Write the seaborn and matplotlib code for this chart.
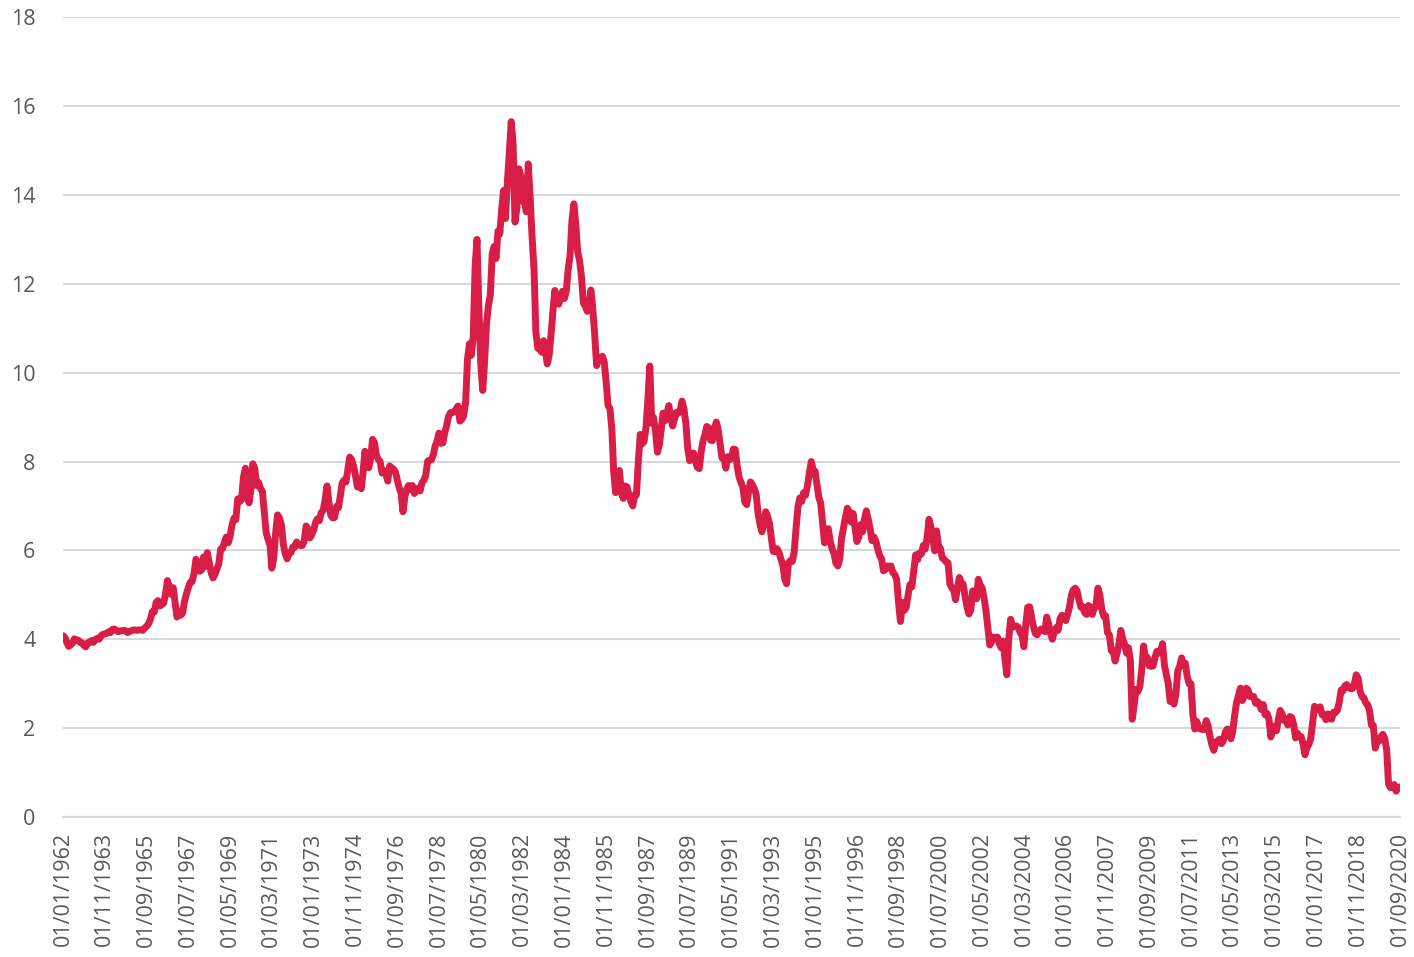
import matplotlib
matplotlib.use("Agg")
import matplotlib.pyplot as plt
import seaborn as sns
import pandas as pd

# 月度收益率（%），1962-01 至 2020-09，按年排列
y1962 = [4.08, 4.04, 3.93, 3.84, 3.87, 3.91, 4.01, 3.98, 3.98, 3.93, 3.92, 3.86]
y1963 = [3.83, 3.92, 3.93, 3.97, 3.93, 3.99, 4.02, 4.00, 4.08, 4.11, 4.12, 4.13]
y1964 = [4.17, 4.15, 4.22, 4.23, 4.20, 4.17, 4.19, 4.19, 4.20, 4.19, 4.15, 4.18]
y1965 = [4.19, 4.21, 4.21, 4.20, 4.21, 4.21, 4.20, 4.25, 4.29, 4.35, 4.45, 4.62]
y1966 = [4.61, 4.83, 4.87, 4.75, 4.78, 4.81, 5.02, 5.32, 5.18, 5.01, 5.16, 4.84]
y1967 = [4.50, 4.63, 4.54, 4.59, 4.85, 5.02, 5.16, 5.28, 5.30, 5.48, 5.80, 5.70]
y1968 = [5.53, 5.56, 5.85, 5.64, 5.95, 5.72, 5.50, 5.38, 5.46, 5.58, 5.70, 6.03]
y1969 = [6.04, 6.19, 6.30, 6.17, 6.32, 6.57, 6.72, 6.69, 7.16, 7.10, 7.14, 7.65]
y1970 = [7.85, 7.24, 7.07, 7.39, 7.95, 7.84, 7.46, 7.53, 7.39, 7.33, 6.84, 6.39]
y1971 = [6.24, 6.11, 5.60, 5.83, 6.39, 6.80, 6.73, 6.58, 6.14, 5.93, 5.81, 5.93]
y1972 = [5.95, 6.08, 6.07, 6.19, 6.13, 6.11, 6.11, 6.21, 6.55, 6.48, 6.28, 6.36]
y1973 = [6.46, 6.64, 6.71, 6.67, 6.85, 6.90, 7.13, 7.45, 7.09, 6.79, 6.73, 6.74]
y1974 = [6.99, 6.96, 7.21, 7.51, 7.58, 7.54, 7.81, 8.10, 8.04, 7.90, 7.68, 7.43]
y1975 = [7.50, 7.39, 7.73, 8.23, 8.06, 7.86, 8.06, 8.50, 8.43, 8.14, 8.05, 8.00]
y1976 = [7.74, 7.79, 7.73, 7.56, 7.90, 7.86, 7.83, 7.77, 7.59, 7.41, 7.29, 6.87]
y1977 = [7.21, 7.39, 7.46, 7.37, 7.46, 7.28, 7.33, 7.40, 7.34, 7.52, 7.58, 7.69]
y1978 = [8.01, 8.03, 8.04, 8.15, 8.35, 8.46, 8.64, 8.41, 8.42, 8.64, 8.81, 9.01]
y1979 = [9.10, 9.10, 9.12, 9.18, 9.25, 8.91, 8.95, 9.03, 9.33, 10.30, 10.65, 10.39]
y1980 = [10.80, 12.41, 13.00, 11.47, 10.18, 9.60, 10.25, 11.10, 11.51, 11.75, 12.68, 12.84]
y1981 = [12.57, 13.19, 13.12, 13.68, 14.10, 13.47, 14.28, 14.94, 15.65, 15.15, 13.39, 13.72]
y1982 = [14.59, 14.43, 13.86, 13.87, 13.62, 14.70, 13.95, 13.06, 12.34, 10.91, 10.55, 10.54]
y1983 = [10.46, 10.72, 10.51, 10.20, 10.38, 10.85, 11.38, 11.85, 11.65, 11.54, 11.69, 11.83]
y1984 = [11.67, 11.84, 12.32, 12.63, 13.41, 13.80, 13.36, 12.72, 12.52, 12.16, 11.57, 11.50]
y1985 = [11.38, 11.51, 11.86, 11.43, 10.85, 10.16, 10.31, 10.33, 10.37, 10.24, 9.78, 9.26]
y1986 = [9.19, 8.70, 7.78, 7.30, 7.71, 7.80, 7.30, 7.17, 7.45, 7.43, 7.25, 7.11]
y1987 = [7.00, 7.25, 7.25, 8.02, 8.61, 8.40, 8.45, 8.76, 9.42, 10.15, 8.86, 8.99]
y1988 = [8.67, 8.21, 8.37, 8.72, 9.09, 8.92, 9.06, 9.26, 8.98, 8.80, 8.96, 9.11]
y1989 = [9.09, 9.17, 9.36, 9.18, 8.86, 8.28, 8.02, 8.11, 8.19, 8.01, 7.87, 7.84]
y1990 = [8.21, 8.47, 8.59, 8.79, 8.76, 8.48, 8.47, 8.75, 8.89, 8.72, 8.39, 8.08]
y1991 = [8.09, 7.85, 8.11, 8.04, 8.07, 8.28, 8.27, 7.90, 7.65, 7.53, 7.42, 7.09]
y1992 = [7.03, 7.34, 7.54, 7.48, 7.39, 7.26, 6.84, 6.59, 6.42, 6.59, 6.87, 6.77]
y1993 = [6.60, 6.26, 5.98, 5.97, 6.04, 5.96, 5.81, 5.68, 5.36, 5.25, 5.72, 5.77]
y1994 = [5.75, 5.97, 6.48, 6.97, 7.18, 7.10, 7.30, 7.24, 7.46, 7.74, 8.00, 7.81]
y1995 = [7.78, 7.47, 7.20, 7.06, 6.63, 6.17, 6.28, 6.49, 6.20, 6.04, 5.93, 5.71]
y1996 = [5.65, 5.81, 6.27, 6.51, 6.74, 6.95, 6.87, 6.64, 6.83, 6.53, 6.20, 6.30]
y1997 = [6.58, 6.42, 6.69, 6.89, 6.71, 6.49, 6.22, 6.30, 6.21, 6.03, 5.88, 5.81]
y1998 = [5.54, 5.57, 5.65, 5.64, 5.65, 5.50, 5.46, 5.34, 4.81, 4.40, 4.83, 4.65]
y1999 = [4.72, 5.00, 5.23, 5.18, 5.54, 5.90, 5.79, 5.94, 5.92, 6.11, 6.03, 6.28]
y2000 = [6.70, 6.52, 6.26, 5.99, 6.44, 6.10, 6.05, 5.83, 5.80, 5.74, 5.72, 5.24]
y2001 = [5.16, 5.10, 4.89, 5.14, 5.39, 5.28, 5.24, 4.97, 4.73, 4.57, 4.65, 5.09]
y2002 = [5.04, 4.91, 5.35, 5.21, 5.16, 4.93, 4.65, 4.26, 3.87, 3.94, 4.05, 4.03]
y2003 = [4.05, 3.90, 3.81, 3.96, 3.57, 3.20, 3.98, 4.45, 4.27, 4.29, 4.30, 4.27]
y2004 = [4.15, 4.08, 3.83, 4.35, 4.72, 4.73, 4.50, 4.28, 4.13, 4.10, 4.19, 4.23]
y2005 = [4.22, 4.17, 4.50, 4.34, 4.14, 4.00, 4.18, 4.26, 4.20, 4.46, 4.54, 4.47]
y2006 = [4.42, 4.57, 4.72, 4.99, 5.11, 5.15, 5.09, 4.88, 4.72, 4.73, 4.60, 4.56]
y2007 = [4.76, 4.72, 4.56, 4.69, 4.75, 5.15, 5.00, 4.67, 4.52, 4.53, 4.15, 4.10]
y2008 = [3.74, 3.74, 3.51, 3.68, 3.88, 4.20, 4.01, 3.89, 3.69, 3.81, 3.53, 2.20]
y2009 = [2.52, 2.87, 2.82, 2.93, 3.29, 3.85, 3.56, 3.59, 3.40, 3.39, 3.40, 3.59]
y2010 = [3.73, 3.69, 3.73, 3.90, 3.42, 3.20, 3.01, 2.60, 2.65, 2.54, 2.76, 3.29]
y2011 = [3.39, 3.58, 3.41, 3.46, 3.17, 3.00, 3.00, 2.30, 1.98, 2.15, 2.01, 1.98]
y2012 = [1.97, 1.97, 2.17, 2.05, 1.80, 1.62, 1.50, 1.68, 1.72, 1.75, 1.65, 1.72]
y2013 = [1.91, 1.98, 1.96, 1.76, 1.93, 2.30, 2.58, 2.74, 2.90, 2.62, 2.72, 2.90]
y2014 = [2.86, 2.71, 2.72, 2.71, 2.56, 2.60, 2.54, 2.42, 2.53, 2.30, 2.33, 2.21]
y2015 = [1.80, 1.98, 2.04, 1.94, 2.20, 2.40, 2.32, 2.17, 2.17, 2.07, 2.26, 2.24]
y2016 = [2.09, 1.78, 1.89, 1.81, 1.81, 1.64, 1.40, 1.56, 1.63, 1.76, 2.14, 2.49]
y2017 = [2.43, 2.42, 2.48, 2.30, 2.30, 2.19, 2.32, 2.21, 2.20, 2.36, 2.35, 2.40]
y2018 = [2.58, 2.86, 2.84, 2.95, 2.98, 2.91, 2.89, 2.89, 3.00, 3.20, 3.12, 2.83]
y2019 = [2.71, 2.68, 2.57, 2.53, 2.40, 2.07, 2.06, 1.55, 1.70, 1.71, 1.81, 1.86]
y2020 = [1.76, 1.50, 0.75, 0.66, 0.67, 0.73, 0.58, 0.65, 0.68]

values = (y1962 + y1963 + y1964 + y1965 + y1966 + y1967 + y1968 + y1969 +
          y1970 + y1971 + y1972 + y1973 + y1974 + y1975 + y1976 + y1977 +
          y1978 + y1979 + y1980 + y1981 + y1982 + y1983 + y1984 + y1985 +
          y1986 + y1987 + y1988 + y1989 + y1990 + y1991 + y1992 + y1993 +
          y1994 + y1995 + y1996 + y1997 + y1998 + y1999 + y2000 + y2001 +
          y2002 + y2003 + y2004 + y2005 + y2006 + y2007 + y2008 + y2009 +
          y2010 + y2011 + y2012 + y2013 + y2014 + y2015 + y2016 + y2017 +
          y2018 + y2019 + y2020)

dates = pd.date_range('1962-01-01', periods=len(values), freq='MS')
df = pd.DataFrame({'date': dates, 'rate': values})

# x 轴刻度：每 22 个月一个
tick_dates = pd.date_range('1962-01-01', '2020-09-01', freq='22MS')
y_ticks = [0, 2, 4, 6, 8, 10, 12, 14, 16, 18]

sns.set_style("white")
plt.rcParams['font.family'] = ['Open Sans', 'DejaVu Sans']

text_color = '#595959'
grid_color = '#d9d9d9'

fig = plt.figure(figsize=(14.14, 9.57), dpi=100)
ax = fig.add_axes([0.0446, 0.1463, 0.9455, 0.8357])

sns.lineplot(data=df, x='date', y='rate', color='#d81e46', linewidth=5, ax=ax)

ax.set_xlim(pd.Timestamp('1962-01-01'), pd.Timestamp('2020-09-01'))
ax.set_ylim(0, 18)
ax.set_yticks(y_ticks)
ax.set_xticks(tick_dates)
ax.set_xticklabels([d.strftime('%d/%m/%Y') for d in tick_dates], rotation=90)

ax.yaxis.grid(True, color=grid_color, linewidth=1.5)
ax.set_axisbelow(True)
for s in ['top', 'right', 'left']:
    ax.spines[s].set_visible(False)
ax.spines['bottom'].set_color(grid_color)
ax.spines['bottom'].set_linewidth(1.5)

ax.tick_params(axis='x', colors=grid_color, length=6, width=1.5, labelcolor=text_color,
               labelsize=15.5, pad=5)
ax.tick_params(axis='y', length=0, labelcolor=text_color, labelsize=15.5, pad=20)
ax.set_xlabel('')
ax.set_ylabel('')

fig.savefig('out.png', dpi=100)
